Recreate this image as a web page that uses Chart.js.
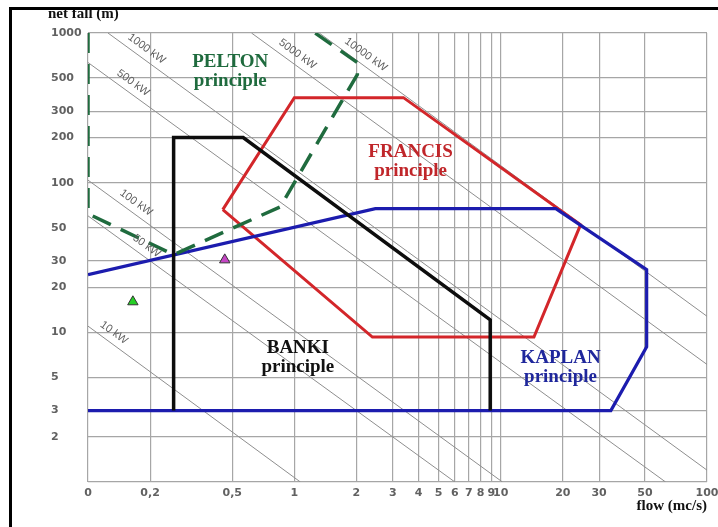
<!DOCTYPE html>
<html>
<head>
<meta charset="utf-8">
<script src="https://cdn.jsdelivr.net/npm/chart.js@4.4.1/dist/chart.umd.min.js"></script>
<style>
  html, body { margin: 0; padding: 0; background: #fff; }
  #wrap { position: relative; width: 718px; height: 527px; overflow: hidden; }
  #wrap canvas { position: absolute; left: 0; top: 0; }
  #frame { position: absolute; left: 9px; top: 7px; right: -6px; bottom: -6px;
           border-top: 3px solid #000; border-left: 3px solid #000; pointer-events: none; }
</style>
</head>
<body>
<div id="wrap">
  <canvas id="chart" width="718" height="527"></canvas>
  <div id="frame"></div>
</div>
<script>
// Axis ticks (log-log application chart for small hydro turbines)
const flowTicks = [0.1, 0.2, 0.5, 1, 2, 3, 4, 5, 6, 7, 8, 9, 10, 20, 30, 50, 100];
const flowTickLabels = ['0', '0,2', '0,5', '1', '2', '3', '4', '5', '6', '7', '8', '9', '10', '20', '30', '50', '100'];
const fallTicks = [1, 2, 3, 5, 10, 20, 30, 50, 100, 200, 300, 500, 1000];
const fallTickLabels = ['', '2', '3', '5', '10', '20', '30', '50', '100', '200', '300', '500', '1000'];

// Operating envelopes: flow (m3/s) and net fall (m) of each outline vertex
const peltonFlow = [0.1, 0.1, 0.26, 0.855, 2.02, 2.02, 1.26];
const peltonFall = [1000, 62, 33, 69, 528, 635, 1000];

const francisFlow = [0.45, 1.0, 3.38, 24.4, 14.5, 2.39, 0.45];
const francisFall = [66, 370, 370, 52.4, 9.3, 9.3, 66];

const bankiFlow = [0.26, 0.26, 0.565, 8.9, 8.9];
const bankiFall = [3, 200, 200, 12.1, 3];

const kaplanFlow = [0.1, 2.47, 18.5, 51, 51, 34.2, 0.1];
const kaplanFall = [24.3, 67, 67, 26.2, 8, 3, 3];

// Constant-power lines (start and end of each line)
const powerRatings = ['10 kW', '50 kW', '100 kW', '500 kW', '1000 kW', '5000 kW', '10000 kW'];
const powerFromFlow = [0.1, 0.1, 0.1, 0.1, 0.125, 0.62, 1.32];
const powerFromFall = [11, 60, 104, 635, 1000, 1000, 1000];
const powerToFlow = [1.07, 6, 10.2, 63, 100, 100, 100];
const powerToFall = [1, 1, 1, 1, 1.2, 6.1, 12.8];
const powerLabelFlow = [0.125, 0.18, 0.16, 0.155, 0.18, 0.97, 2.08];

// Individual sites
const siteFlow = [0.165, 0.46];
const siteFall = [16, 30.5];

// Region captions
const regionNames = ['PELTON', 'FRANCIS', 'BANKI', 'KAPLAN'];
const regionFlow = [0.489, 3.66, 1.04, 19.5];
const regionFall = [552, 138, 6.75, 5.79];

// ---------------------------------------------------------------
const regionColors = ['#1f6b3e', '#c0262a', '#111111', '#1f279c'];
const toPoints = (xs, ys) => xs.map((v, i) => ({ x: v, y: ys[i] }));

const outline = (label, xs, ys, color, width, dash, order) => ({
  label, data: toPoints(xs, ys), showLine: true, fill: false, tension: 0,
  borderColor: color, borderWidth: width, borderDash: dash, pointRadius: 0,
  borderJoinStyle: 'miter', borderCapStyle: 'butt', order
});

const powerSets = powerRatings.map((name, i) => ({
  label: name,
  data: [{ x: powerFromFlow[i], y: powerFromFall[i] }, { x: powerToFlow[i], y: powerToFall[i] }],
  showLine: true, borderColor: '#8e8e8e', borderWidth: 1, pointRadius: 0, order: 10
}));

const datasets = [
  ...powerSets,
  outline('Francis', francisFlow, francisFall, '#d3262a', 3, [], 6),
  outline('Kaplan', kaplanFlow, kaplanFall, '#1c1cae', 3.2, [], 5),
  outline('Banki', bankiFlow, bankiFall, '#0d0d0d', 3.5, [], 4),
  outline('Pelton', peltonFlow, peltonFall, '#1f6b3e', 3.5, [20, 11], 3),
  {
    label: 'sites', data: toPoints(siteFlow, siteFall), showLine: false,
    pointStyle: 'triangle', pointRadius: 6, pointBackgroundColor: ['#25cf25', '#c445c4'],
    pointBorderColor: '#333', pointBorderWidth: 1, order: 0
  }
];

const textPlugin = {
  id: 'turbineText',
  afterDatasetsDraw(chart) {
    const { ctx, chartArea } = chart;
    const xs = chart.scales.x, ys = chart.scales.y;
    ctx.save();

    // power ratings written along their lines
    ctx.font = '11px "Liberation Sans", Arial, sans-serif';
    ctx.fillStyle = '#5c5c5c';
    ctx.textAlign = 'center';
    ctx.textBaseline = 'middle';
    powerRatings.forEach((name, i) => {
      const x0 = xs.getPixelForValue(powerFromFlow[i]), y0 = ys.getPixelForValue(powerFromFall[i]);
      const x1 = xs.getPixelForValue(powerToFlow[i]), y1 = ys.getPixelForValue(powerToFall[i]);
      const ang = Math.atan2(y1 - y0, x1 - x0);
      const px = xs.getPixelForValue(powerLabelFlow[i]);
      const py = y0 + (px - x0) / (x1 - x0) * (y1 - y0);
      const off = 10;
      ctx.save();
      ctx.translate(px + Math.sin(ang) * off, py - Math.cos(ang) * off);
      ctx.rotate(ang);
      ctx.fillText(name, 0, 0);
      ctx.restore();
    });

    // region captions
    ctx.font = 'bold 19px "Liberation Serif", "Times New Roman", serif';
    regionNames.forEach((name, i) => {
      const cx = xs.getPixelForValue(regionFlow[i]);
      const cy = ys.getPixelForValue(regionFall[i]);
      ctx.fillStyle = regionColors[i];
      ctx.fillText(name, cx, cy - 9.5);
      ctx.fillText('principle', cx, cy + 9.5);
    });

    // vertical axis caption
    ctx.font = 'bold 15px "Liberation Serif", "Times New Roman", serif';
    ctx.fillStyle = '#111';
    ctx.textAlign = 'left';
    ctx.textBaseline = 'alphabetic';
    ctx.fillText('net fall (m)', chartArea.left - 40, chartArea.top - 15);
    ctx.restore();
  }
};

const tickFont = { family: '"DejaVu Sans", sans-serif', size: 11, weight: 'bold' };
const gridStyle = { color: '#a6a6a6', lineWidth: 1.2, drawTicks: false };

new Chart(document.getElementById('chart'), {
  type: 'scatter',
  data: { datasets },
  options: {
    responsive: false,
    animation: false,
    devicePixelRatio: 1,
    layout: { padding: { left: 51, top: 33, right: 11, bottom: 0 } },
    plugins: { legend: { display: false }, tooltip: { enabled: false } },
    scales: {
      x: {
        type: 'logarithmic', min: 0.1, max: 100, position: 'bottom',
        afterBuildTicks: s => { s.ticks = flowTicks.map(v => ({ value: v })); },
        afterFit: s => { s.height = 45; s.paddingLeft = 0; s.paddingRight = 0; },
        ticks: {
          autoSkip: false, maxRotation: 0, minRotation: 0, padding: 5,
          color: '#616161', font: tickFont,
          callback: v => flowTickLabels[flowTicks.indexOf(v)]
        },
        grid: gridStyle,
        border: { display: false },
        title: {
          display: true, text: 'flow (mc/s)', align: 'end', color: '#111',
          font: { family: '"Liberation Serif", "Times New Roman", serif', size: 15, weight: 'bold' },
          padding: { top: 0, bottom: 12 }
        }
      },
      y: {
        type: 'logarithmic', min: 1, max: 1000, position: 'left',
        afterBuildTicks: s => { s.ticks = fallTicks.map(v => ({ value: v })); },
        afterFit: s => { s.width = 37; s.paddingTop = 0; s.paddingBottom = 0; },
        ticks: {
          autoSkip: false, crossAlign: 'far', padding: 4,
          color: '#616161', font: tickFont,
          callback: v => fallTickLabels[fallTicks.indexOf(v)]
        },
        grid: gridStyle,
        border: { display: false }
      }
    }
  },
  plugins: [textPlugin]
});
</script>
</body>
</html>
